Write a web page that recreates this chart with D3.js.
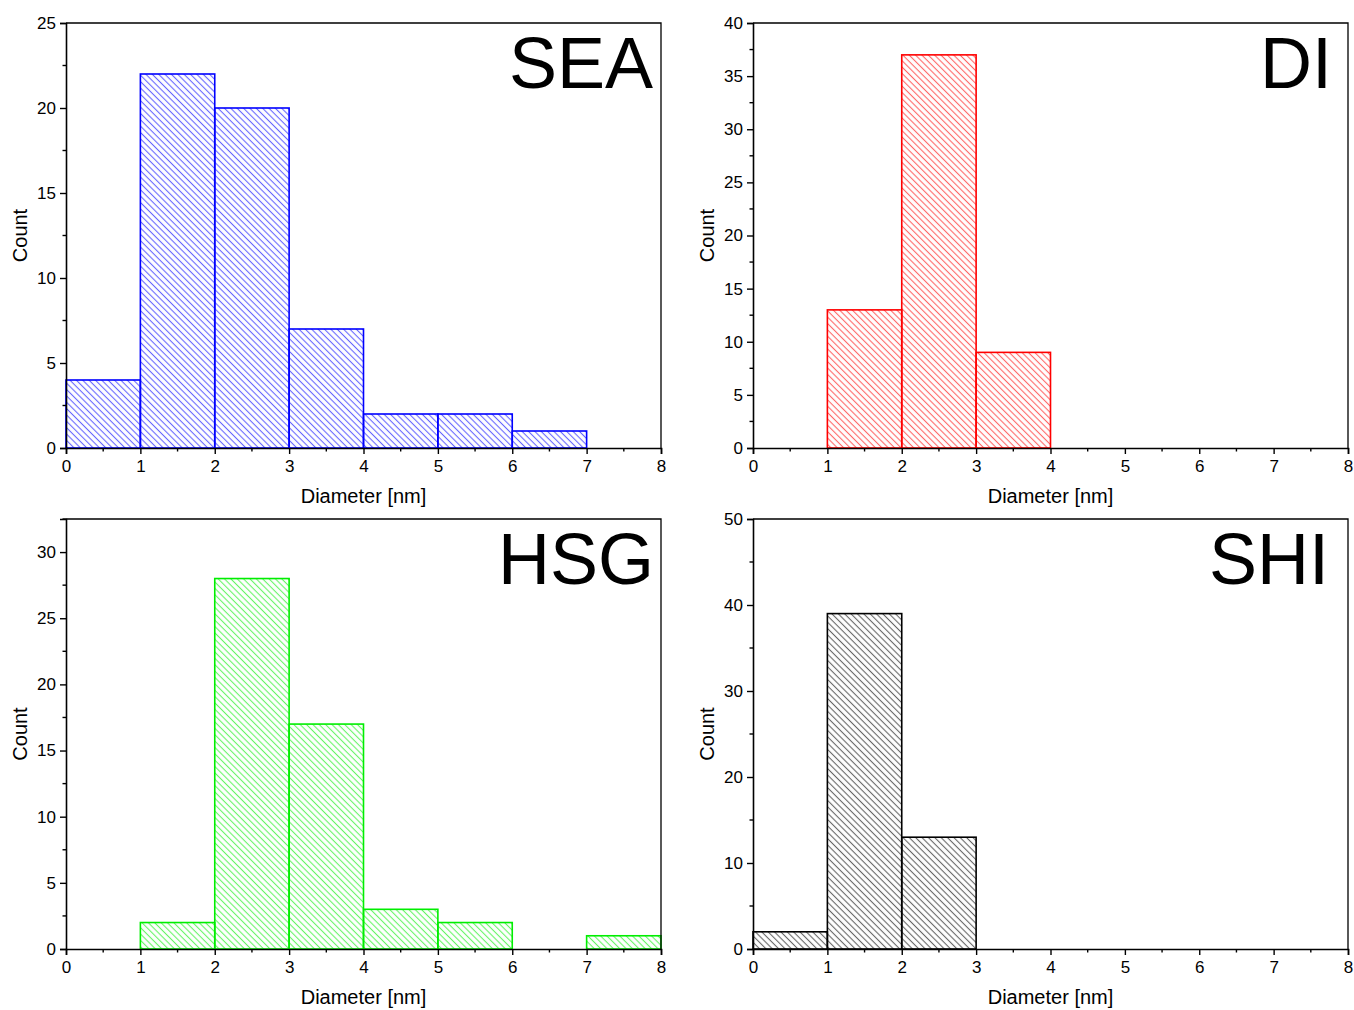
<!DOCTYPE html>
<html>
<head>
<meta charset="utf-8">
<script src="https://cdn.jsdelivr.net/npm/d3@7"></script>
<style>
  html, body { margin: 0; padding: 0; background: #fff; }
  svg { display: block; }
  text { font-family: "Liberation Sans", Arial, sans-serif; fill: #000; }
</style>
</head>
<body>
<svg id="chart" width="1354" height="1010"></svg>
<script>
// Diameter bins (nm): each bar spans [binStart, binStart + 1)
const binStarts = [0, 1, 2, 3, 4, 5, 6, 7];

// Counts per bin for each sample
const seaCounts = [4, 22, 20, 7, 2, 2, 1, 0];
const diCounts  = [0, 13, 37, 9, 0, 0, 0, 0];
const hsgCounts = [0, 2, 28, 17, 3, 2, 0, 1];
const shiCounts = [2, 39, 13, 0, 0, 0, 0, 0];

// Panel names and axis settings
const sampleNames = ["SEA", "DI", "HSG", "SHI"];
const yMaxima     = [25, 40, 32.5, 50];
const yTickSteps  = [5, 5, 5, 10];
const xTickValues = [0, 1, 2, 3, 4, 5, 6, 7, 8];
const xAxisTitle  = "Diameter [nm]";
const yAxisTitle  = "Count";

const colors = ["#0000ff", "#ff0000", "#00ee00", "#000000"];
const allCounts = [seaCounts, diCounts, hsgCounts, shiCounts];

// Plot-area rectangles for the 2x2 grid
const layout = [
  { left: 66,  top: 23,  width: 595, height: 425, labelInset: 8 },
  { left: 753, top: 23,  width: 595, height: 425, labelInset: 16 },
  { left: 66,  top: 519, width: 595, height: 430, labelInset: 7 },
  { left: 753, top: 519, width: 595, height: 430, labelInset: 19 }
];

const svg = d3.select("#chart");
const defs = svg.append("defs");

// Diagonal hatch fill, one pattern per colour
colors.forEach((c, i) => {
  const gap = 4.5;
  const p = defs.append("pattern")
    .attr("id", "hatch" + i)
    .attr("patternUnits", "userSpaceOnUse")
    .attr("width", gap)
    .attr("height", gap)
    .attr("patternTransform", "rotate(-45)");
  p.append("line")
    .attr("x1", gap / 2).attr("y1", -1)
    .attr("x2", gap / 2).attr("y2", gap + 1)
    .attr("stroke", c)
    .attr("stroke-width", 1.1)
    .attr("stroke-opacity", 0.6);
});

allCounts.forEach((counts, i) => {
  const L = layout[i];
  const g = svg.append("g").attr("transform", `translate(${L.left},${L.top})`);

  const x = d3.scaleLinear().domain([0, 8]).range([0, L.width]);
  const y = d3.scaleLinear().domain([0, yMaxima[i]]).range([L.height, 0]);

  const bins = binStarts.map((b, k) => ({ x0: b, x1: b + 1, count: counts[k] }))
    .filter(d => d.count > 0);

  // Bars
  g.selectAll("rect.bar")
    .data(bins)
    .join("rect")
    .attr("class", "bar")
    .attr("x", d => x(d.x0))
    .attr("y", d => y(d.count))
    .attr("width", d => x(d.x1) - x(d.x0))
    .attr("height", d => y(0) - y(d.count))
    .attr("fill", `url(#hatch${i})`)
    .attr("stroke", colors[i])
    .attr("stroke-width", 1.6);

  // Frame (top and right sides)
  g.append("path")
    .attr("d", `M0,0H${L.width}V${L.height}`)
    .attr("fill", "none")
    .attr("stroke", "#000")
    .attr("stroke-width", 1.3);

  // X axis: major ticks every 1, minor every 0.5
  const xMinor = d3.range(0.5, 8, 1);
  const xAxisG = g.append("g").attr("transform", `translate(0,${L.height})`);
  xAxisG.call(d3.axisBottom(x).tickValues(xTickValues).tickFormat(d3.format("d"))
      .tickSize(6).tickPadding(6))
    .call(a => a.select(".domain").attr("stroke-width", 1.6))
    .call(a => a.selectAll(".tick line").attr("stroke-width", 1.4))
    .call(a => a.selectAll(".tick text").style("font-size", "17px")
      .style("font-family", "'Liberation Sans', Arial, sans-serif"));
  xAxisG.selectAll("line.minor").data(xMinor).join("line")
    .attr("class", "minor")
    .attr("x1", d => x(d)).attr("x2", d => x(d))
    .attr("y1", 0).attr("y2", 3.5)
    .attr("stroke", "#000").attr("stroke-width", 1.4);

  // Y axis: labelled ticks plus half-step minor ticks
  const step = yTickSteps[i];
  const yMajor = d3.range(0, yMaxima[i] + 0.001, step);
  const yMinor = d3.range(step / 2, yMaxima[i] + 0.001, step);
  const yAxisG = g.append("g");
  yAxisG.call(d3.axisLeft(y).tickValues(yMajor).tickFormat(d3.format("d"))
      .tickSize(6).tickPadding(4))
    .call(a => a.select(".domain").attr("stroke-width", 1.6))
    .call(a => a.selectAll(".tick line").attr("stroke-width", 1.4))
    .call(a => a.selectAll(".tick text").style("font-size", "17px")
      .style("font-family", "'Liberation Sans', Arial, sans-serif"));
  yAxisG.selectAll("line.minor").data(yMinor).join("line")
    .attr("class", "minor")
    .attr("y1", d => y(d)).attr("y2", d => y(d))
    .attr("x1", 0).attr("x2", -3.5)
    .attr("stroke", "#000").attr("stroke-width", 1.4);

  // Axis titles
  g.append("text")
    .attr("x", L.width / 2)
    .attr("y", L.height + 55)
    .attr("text-anchor", "middle")
    .style("font-size", "20px")
    .text(xAxisTitle);

  g.append("text")
    .attr("transform", `translate(${-39},${L.height / 2}) rotate(-90)`)
    .attr("text-anchor", "middle")
    .style("font-size", "20px")
    .text(yAxisTitle);

  // Sample name in the upper-right corner
  g.append("text")
    .attr("x", L.width - L.labelInset)
    .attr("y", 65)
    .attr("text-anchor", "end")
    .style("font-size", "72px")
    .text(sampleNames[i]);
});
</script>
</body>
</html>
